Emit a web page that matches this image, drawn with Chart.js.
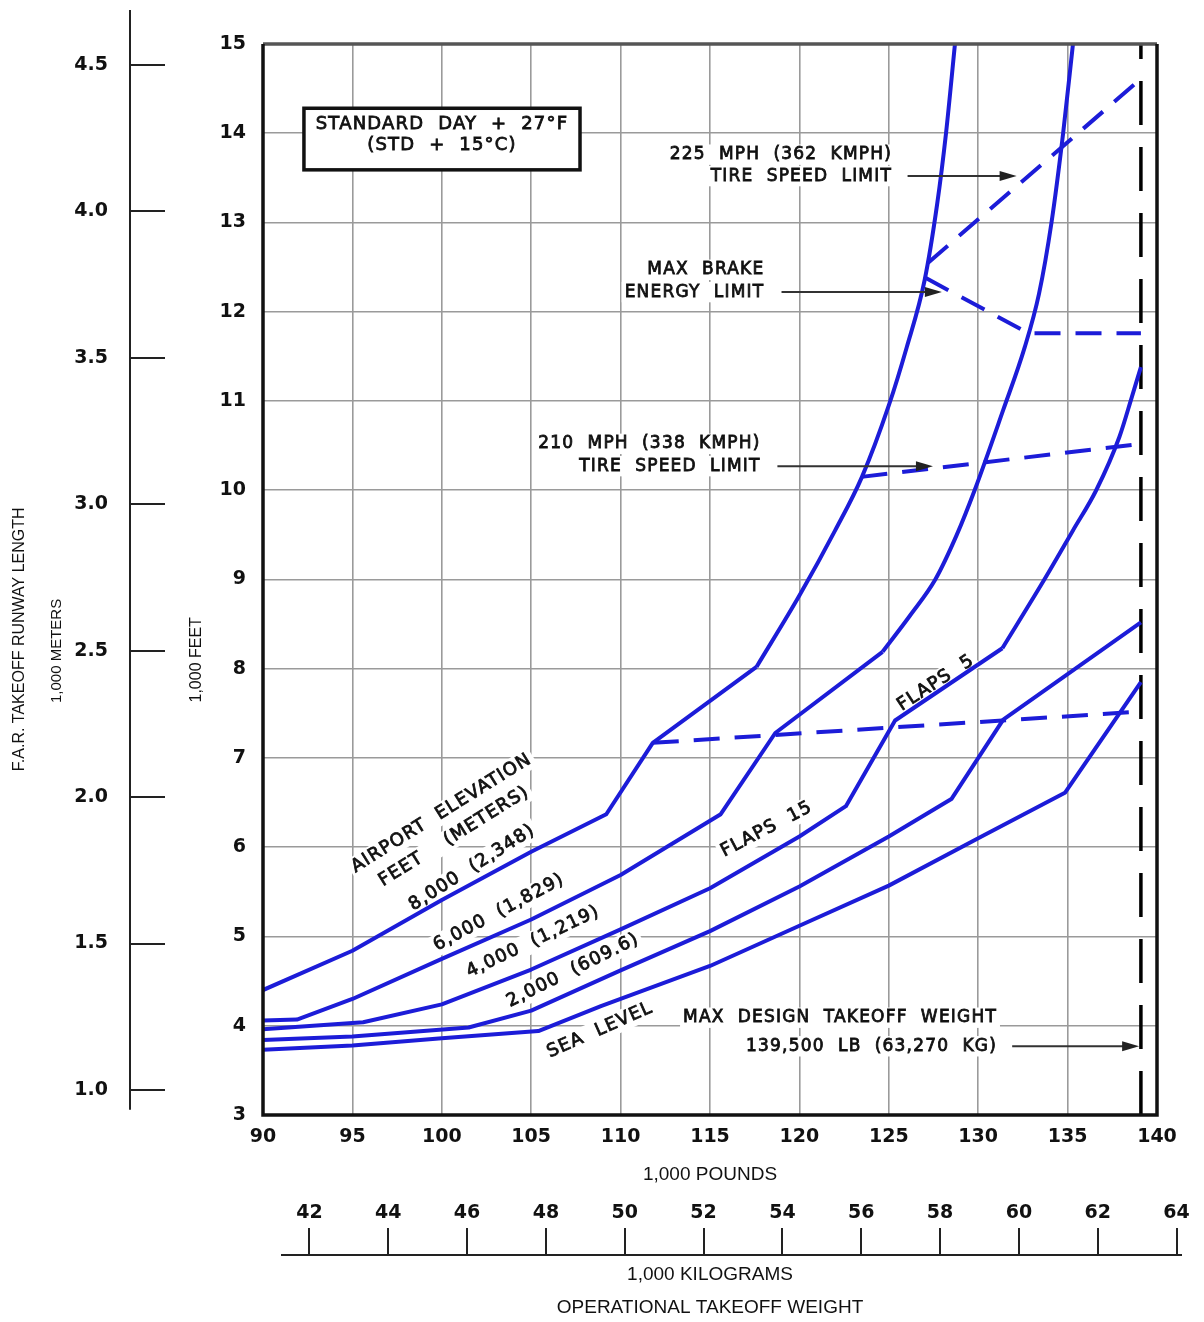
<!DOCTYPE html>
<html>
<head>
<meta charset="utf-8">
<script src="https://cdn.jsdelivr.net/npm/chart.js@4.4.1/dist/chart.umd.min.js"></script>
<style>
  html, body { margin: 0; padding: 0; background: #fff; }
  #wrap { width: 1204px; height: 1322px; }
</style>
</head>
<body>
<div id="wrap"><canvas id="chart" width="1204" height="1322"></canvas></div>
<script>
// weights in 1,000 lb, runway lengths in 1,000 ft
// each elevation line = straight flaps 15 / flaps 5 part + a smooth upper part
const elev8000X = [90, 95, 100, 105, 109.2, 111.8, 117.6];
const elev8000Y = [4.40, 4.84, 5.41, 5.95, 6.37, 7.17, 8.02];
const elev8000UpX = [117.6, 120, 122, 123.5, 125, 126, 127, 127.7, 128.2, 128.7];
const elev8000UpY = [8.02, 8.82, 9.55, 10.15, 10.95, 11.6, 12.35, 13.2, 14.0, 15.0];

const elev6000X = [90, 91.9, 95, 100, 105, 110, 115.6, 118.65, 124.65];
const elev6000Y = [4.06, 4.07, 4.30, 4.75, 5.19, 5.69, 6.37, 7.28, 8.19];
const elev6000UpX = [124.65, 126.2, 127.6, 128.8, 129.8, 131.4, 132.6, 133.4, 134.1, 134.75, 135.3];
const elev6000UpY = [8.19, 8.6, 9.0, 9.5, 10.0, 10.9, 11.6, 12.2, 13.0, 14.0, 15.0];

const elev4000X = [90, 95, 95.6, 100, 105, 110, 115, 120, 122.6, 125.35, 131.35];
const elev4000Y = [3.96, 4.03, 4.04, 4.24, 4.63, 5.08, 5.54, 6.12, 6.46, 7.42, 8.23];
const elev4000UpX = [131.35, 133.7, 135.3, 136.6, 137.9, 138.6, 139.1];
const elev4000UpY = [8.23, 9.0, 9.55, 10.0, 10.6, 11.05, 11.38];

const elev2000X = [90, 95, 101.5, 105, 110, 115, 120, 125, 128.5, 131.4, 139.1];
const elev2000Y = [3.84, 3.88, 3.98, 4.17, 4.62, 5.06, 5.56, 6.12, 6.54, 7.43, 8.52];

const seaLevelX = [90, 95, 100, 105.4, 108.9, 115, 120, 125, 130, 134.85, 139.1];
const seaLevelY = [3.73, 3.78, 3.86, 3.94, 4.22, 4.67, 5.12, 5.57, 6.10, 6.61, 7.85];

const flaps5X = [111.8, 139.1];
const flaps5Y = [7.17, 7.52];
const tire210X = [123.47, 139.1];
const tire210Y = [10.15, 10.52];
const tire225X = [127.2, 139.1];
const tire225Y = [12.55, 14.61];
const brakeX = [127.05, 132.8, 139.1];
const brakeY = [12.38, 11.76, 11.76];
const maxWeightX = [139.1, 139.1];
const maxWeightY = [3, 15];

// axis ticks
const FT_TICKS = [3, 4, 5, 6, 7, 8, 9, 10, 11, 12, 13, 14, 15];
const LB_TICKS = [90, 95, 100, 105, 110, 115, 120, 125, 130, 135, 140];
const M_TICKS = [1.0, 1.5, 2.0, 2.5, 3.0, 3.5, 4.0, 4.5];
const KG_TICKS = [42, 44, 46, 48, 50, 52, 54, 56, 58, 60, 62, 64];
const FT_PER_M = 3.28084;
const LB_PER_KG = 2.20462;

// text on the chart, placed in data units
const curveLabels = [
  { text: "AIRPORT  ELEVATION", x: 99.99, y: 6.38, angle: -32 },
  { text: "FEET    (METERS)", x: 100.69, y: 6.12, angle: -32 },
  { text: "8,000  (2,348)", x: 101.69, y: 5.77, angle: -32.5 },
  { text: "6,000  (1,829)", x: 103.2, y: 5.27, angle: -28 },
  { text: "4,000  (1,219)", x: 105.1, y: 4.94, angle: -25.5 },
  { text: "2,000  (609.6)", x: 107.34, y: 4.62, angle: -26.4 },
  { text: "SEA  LEVEL", x: 108.85, y: 3.95, angle: -24 },
  { text: "FLAPS  15", x: 118.17, y: 6.20, angle: -27.6 },
  { text: "FLAPS  5", x: 127.64, y: 7.84, angle: -33.3 }
];
const notes = [
  { text: "225  MPH  (362  KMPH)", x: 125.18, y: 13.76 },
  { text: "TIRE  SPEED  LIMIT", x: 125.18, y: 13.52 },
  { text: "MAX  BRAKE", x: 118.04, y: 12.47 },
  { text: "ENERGY  LIMIT", x: 118.04, y: 12.22 },
  { text: "210  MPH  (338  KMPH)", x: 117.83, y: 10.52 },
  { text: "TIRE  SPEED  LIMIT", x: 117.83, y: 10.27 },
  { text: "MAX  DESIGN  TAKEOFF  WEIGHT", x: 131.05, y: 4.09 },
  { text: "139,500  LB  (63,270  KG)", x: 131.05, y: 3.77 }
];
const arrows = [
  { x1: 126.05, x2: 132.15, y: 13.52 },
  { x1: 119.0, x2: 127.97, y: 12.22 },
  { x1: 118.77, x2: 127.47, y: 10.27 },
  { x1: 131.9, x2: 139.0, y: 3.77 }
];
const boxLines = ["STANDARD  DAY  +  27°F", "(STD  +  15°C)"];

const BLUE = "#1c1cd8";

function pairs(xs, ys) {
  return xs.map((v, i) => ({ x: v, y: ys[i] }));
}

function curve(xs, ys, opts) {
  const o = opts || {};
  return {
    data: pairs(xs, ys),
    borderColor: BLUE,
    borderWidth: 4,
    borderDash: o.dashed ? [26, 15] : [],
    pointRadius: 0,
    tension: 0,
    cubicInterpolationMode: o.smooth ? "monotone" : "default",
    borderJoinStyle: "round",
    xAxisID: "x",
    yAxisID: "y"
  };
}

const datasets = [
  curve(elev8000X, elev8000Y),
  curve(elev8000UpX, elev8000UpY, { smooth: true }),
  curve(elev6000X, elev6000Y),
  curve(elev6000UpX, elev6000UpY, { smooth: true }),
  curve(elev4000X, elev4000Y),
  curve(elev4000UpX, elev4000UpY, { smooth: true }),
  curve(elev2000X, elev2000Y),
  curve(seaLevelX, seaLevelY),
  curve(flaps5X, flaps5Y, { dashed: true }),
  curve(tire210X, tire210Y, { dashed: true }),
  curve(tire225X, tire225Y, { dashed: true }),
  curve(brakeX, brakeY, { dashed: true }),
  {
    data: pairs(maxWeightX, maxWeightY),
    borderColor: "#000",
    borderWidth: 3.5,
    borderDash: [44, 22],
    pointRadius: 0,
    xAxisID: "x",
    yAxisID: "y"
  }
];

const TEXT_FONT = '17px "DejaVu Sans"';
const TICK_FONT = { family: "DejaVu Sans", size: 19, weight: "bold" };

function drawText(ctx, str, px, py, opt) {
  ctx.save();
  ctx.translate(px, py);
  if (opt.angle) ctx.rotate(opt.angle * Math.PI / 180);
  ctx.font = opt.font;
  ctx.letterSpacing = opt.spacing || "0px";
  const w = ctx.measureText(str).width;
  const x0 = opt.align === "right" ? -w : opt.align === "left" ? 0 : -w / 2;
  if (opt.mask) {
    ctx.fillStyle = "#fff";
    ctx.fillRect(x0 - 3, -opt.size * 0.6, w + 6, opt.size * 1.2);
  }
  ctx.fillStyle = "#111";
  ctx.textAlign = "left";
  ctx.textBaseline = "middle";
  ctx.fillText(str, x0, 0);
  if (opt.heavy) {
    ctx.strokeStyle = "#111";
    ctx.lineWidth = 0.8;
    ctx.strokeText(str, x0, 0);
  }
  ctx.restore();
}

function drawArrow(ctx, x1, x2, y) {
  ctx.save();
  ctx.strokeStyle = "#333";
  ctx.fillStyle = "#222";
  ctx.lineWidth = 2;
  ctx.beginPath();
  ctx.moveTo(x1, y);
  ctx.lineTo(x2 - 10, y);
  ctx.stroke();
  ctx.beginPath();
  ctx.moveTo(x2, y);
  ctx.lineTo(x2 - 17, y - 5);
  ctx.lineTo(x2 - 17, y + 5);
  ctx.closePath();
  ctx.fill();
  ctx.restore();
}

const overlay = {
  id: "overlay",
  afterLayout(chart) {
    // kilogram scale sits below the pound axis, with its ticks pointing up
    const x = chart.scales.x;
    const kg = chart.scales.kg;
    kg.left = x.getPixelForValue(kg.min * LB_PER_KG);
    kg.right = x.getPixelForValue(kg.max * LB_PER_KG);
    kg.width = kg.right - kg.left;
    kg.bottom = chart.chartArea.bottom + 140;
    kg.top = kg.bottom - 60;
    kg.height = 60;
    kg.configure();
  },
  beforeDatasetsDraw(chart) {
    const ctx = chart.ctx;
    const x = chart.scales.x, y = chart.scales.y;

    curveLabels.forEach(l => {
      drawText(ctx, l.text, x.getPixelForValue(l.x), y.getPixelForValue(l.y),
        { font: '18px "DejaVu Sans"', spacing: "1.2px", size: 18, angle: l.angle, mask: true, heavy: true });
    });
    notes.forEach(n => {
      drawText(ctx, n.text, x.getPixelForValue(n.x), y.getPixelForValue(n.y),
        { font: TEXT_FONT, spacing: "1.2px", size: 17, align: "right", mask: true, heavy: true });
    });

    // standard day box
    const bx1 = x.getPixelForValue(92.29), bx2 = x.getPixelForValue(107.73);
    const by1 = y.getPixelForValue(14.28), by2 = y.getPixelForValue(13.59);
    ctx.save();
    ctx.fillStyle = "#fff";
    ctx.fillRect(bx1, by1, bx2 - bx1, by2 - by1);
    ctx.strokeStyle = "#111";
    ctx.lineWidth = 3.5;
    ctx.strokeRect(bx1, by1, bx2 - bx1, by2 - by1);
    ctx.restore();
    const cx = (bx1 + bx2) / 2;
    drawText(ctx, boxLines[0], cx, y.getPixelForValue(14.10), { font: '18px "DejaVu Sans"', spacing: "1.2px", size: 18, heavy: true });
    drawText(ctx, boxLines[1], cx, y.getPixelForValue(13.86), { font: '18px "DejaVu Sans"', spacing: "1.2px", size: 18, heavy: true });
  },
  afterDatasetsDraw(chart) {
    const ctx = chart.ctx;
    const a = chart.chartArea;
    const x = chart.scales.x, y = chart.scales.y;

    arrows.forEach(r => {
      drawArrow(ctx, x.getPixelForValue(r.x1), x.getPixelForValue(r.x2), y.getPixelForValue(r.y));
    });

    // plot frame
    ctx.save();
    ctx.lineWidth = 3.5;
    ctx.strokeStyle = "#555";
    ctx.beginPath();
    ctx.moveTo(a.left, a.top);
    ctx.lineTo(a.right, a.top);
    ctx.stroke();
    ctx.strokeStyle = "#111";
    ctx.beginPath();
    ctx.moveTo(a.right, a.top);
    ctx.lineTo(a.right, a.bottom);
    ctx.lineTo(a.left, a.bottom);
    ctx.lineTo(a.left, a.top);
    ctx.stroke();
    ctx.restore();
  },
  afterDraw(chart) {
    const ctx = chart.ctx;
    const a = chart.chartArea;
    const y = chart.scales.y, m = chart.scales.m, kg = chart.scales.kg;

    // meters axis line, ticks stick out to the right of it
    const lx = m.right - 35;
    ctx.save();
    ctx.strokeStyle = "#222";
    ctx.lineWidth = 2;
    ctx.beginPath();
    ctx.moveTo(lx, y.getPixelForValue(15.38));
    ctx.lineTo(lx, y.getPixelForValue(3.06));
    ctx.stroke();
    ctx.restore();

    const mid = (a.left + a.right) / 2;
    const plain = (t, px, py, size, angle) =>
      drawText(ctx, t, px, py, { font: size + 'px "Liberation Sans"', size: size, angle: angle });
    plain("1,000 POUNDS", mid, a.bottom + 60, 19);
    plain("1,000 KILOGRAMS", mid, kg.bottom + 20, 19);
    plain("OPERATIONAL TAKEOFF WEIGHT", mid, kg.bottom + 53, 19);
    plain("1,000 FEET", 197, y.getPixelForValue(8.1), 16, -90);
    plain("1,000 METERS", 57, y.getPixelForValue(8.2), 15, -90);
    plain("F.A.R. TAKEOFF RUNWAY LENGTH", 20, y.getPixelForValue(8.33), 16, -90);
  }
};

new Chart(document.getElementById("chart"), {
  type: "line",
  data: { datasets: datasets },
  options: {
    responsive: false,
    animation: false,
    layout: { padding: { top: 44, right: 47, bottom: 0, left: 0 } },
    plugins: { legend: { display: false }, tooltip: { enabled: false } },
    scales: {
      x: {
        type: "linear",
        position: "bottom",
        min: 90,
        max: 140,
        afterBuildTicks: s => { s.ticks = LB_TICKS.map(v => ({ value: v })); },
        afterFit: s => { s.height = 207; },
        grid: { color: "#9a9a9a", lineWidth: 1.6, drawTicks: false },
        border: { display: false },
        ticks: { padding: 11, color: "#111", font: TICK_FONT, maxRotation: 0, autoSkip: false }
      },
      y: {
        type: "linear",
        position: "left",
        weight: 0,
        min: 3,
        max: 15,
        afterBuildTicks: s => { s.ticks = FT_TICKS.map(v => ({ value: v })); },
        afterFit: s => { s.width = 98; },
        grid: { color: "#9a9a9a", lineWidth: 1.6, drawTicks: false },
        border: { display: false },
        ticks: { padding: 17, color: "#111", font: TICK_FONT, autoSkip: false }
      },
      m: {
        type: "linear",
        position: "left",
        weight: 1,
        min: 3 / FT_PER_M,
        max: 15 / FT_PER_M,
        afterBuildTicks: s => { s.ticks = M_TICKS.map(v => ({ value: v })); },
        afterFit: s => { s.width = 165; },
        grid: { drawOnChartArea: false, color: "#222", lineWidth: 2, tickLength: 35 },
        border: { display: false },
        ticks: { padding: 22, color: "#111", font: TICK_FONT, autoSkip: false, callback: v => v.toFixed(1) }
      },
      kg: {
        type: "linear",
        position: "top",
        min: 41.3,
        max: 64.1,
        afterBuildTicks: s => { s.ticks = KG_TICKS.map(v => ({ value: v })); },
        afterFit: s => { s.height = 0; },
        grid: { drawOnChartArea: false, color: "#222", lineWidth: 2, tickLength: 27 },
        border: { display: true, color: "#222", width: 2 },
        ticks: { padding: 4, color: "#111", font: TICK_FONT, autoSkip: false, maxRotation: 0 }
      }
    }
  },
  plugins: [overlay]
});
</script>
</body>
</html>
